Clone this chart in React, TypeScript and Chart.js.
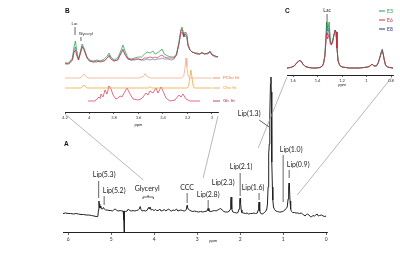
import { useEffect, useRef } from "react";
import { Chart, registerables } from "chart.js";
Chart.register(...registerables);

const FONT = 'Lato, "Open Sans", sans-serif';
const BOLD = '"Liberation Sans", Arial, sans-serif';

// ---------------- Panel A: full spectrum ----------------
const A_PPM = [
  6.12, 6.06, 6.0, 5.94, 5.88, 5.82, 5.76, 5.7, 5.64, 5.58, 5.52, 5.46, 5.4, 5.35, 5.31, 5.295, 5.285, 5.275, 5.265, 5.255,
  5.24, 5.22, 5.2, 5.18, 5.16, 5.13, 5.09, 5.05, 5.01, 4.97, 4.93, 4.9, 4.87, 4.83, 4.79, 4.75, 4.72, 4.706, 4.7, 4.694,
  4.685, 4.66, 4.63, 4.6, 4.57, 4.53, 4.49, 4.45, 4.41, 4.37, 4.345, 4.325, 4.305, 4.28, 4.24, 4.2, 4.16, 4.13, 4.115, 4.095,
  4.07, 4.04, 4.0, 3.97, 3.94, 3.9, 3.87, 3.84, 3.8, 3.76, 3.73, 3.7, 3.66, 3.63, 3.6, 3.56, 3.52, 3.48, 3.45, 3.42,
  3.38, 3.34, 3.3, 3.27, 3.25, 3.235, 3.225, 3.21, 3.18, 3.14, 3.1, 3.06, 3.02, 2.97, 2.92, 2.87, 2.82, 2.77, 2.745, 2.725,
  2.68, 2.64, 2.6, 2.56, 2.52, 2.48, 2.45, 2.42, 2.38, 2.34, 2.3, 2.26, 2.235, 2.22, 2.21, 2.2, 2.19, 2.17, 2.13, 2.09,
  2.05, 2.025, 2.01, 2.0, 1.99, 1.975, 1.96, 1.92, 1.88, 1.84, 1.8, 1.76, 1.72, 1.68, 1.64, 1.6, 1.58, 1.57, 1.56, 1.55,
  1.54, 1.52, 1.49, 1.46, 1.43, 1.4, 1.38, 1.365, 1.35, 1.34, 1.332, 1.322, 1.31, 1.295, 1.283, 1.275, 1.268, 1.26, 1.25, 1.24,
  1.225, 1.2, 1.17, 1.13, 1.09, 1.05, 1.02, 0.99, 0.96, 0.93, 0.905, 0.885, 0.872, 0.862, 0.852, 0.84, 0.825, 0.805, 0.78, 0.74,
  0.7, 0.66, 0.62, 0.58, 0.55, 0.52, 0.49, 0.46, 0.43, 0.4, 0.37, 0.34, 0.31, 0.27, 0.24, 0.21, 0.18, 0.15, 0.11, 0.07,
  0.03, 0.0,
];
const A_INTENSITY = [
  18.5, 19, 18.5, 18.5, 18, 18.5, 18, 17.5, 17.5, 17, 17, 16.5, 16, 15.5, 15.5, 22, 31, 28, 24, 26,
  24, 23, 23, 24.5, 23, 22, 22, 21.5, 21.5, 21, 22.5, 23, 21.5, 21, 21.5, 21, 21, 12, 0, 12,
  21, 20.5, 21, 23, 21.5, 21, 21.5, 21, 21.5, 22, 23, 25.5, 22.5, 21, 21.5, 21, 22, 24.5, 23, 25,
  22, 22.5, 21.5, 22.5, 21.5, 21.5, 23, 21, 21.5, 22.5, 21, 22, 23, 21.5, 21, 22, 21.5, 23, 21, 21.5,
  22, 21.5, 21, 21.5, 23, 26.5, 25, 23, 22, 21, 20.5, 21, 20.5, 20, 20.5, 20, 20.5, 21, 23.5, 21,
  20.5, 21, 21.5, 21, 22, 23, 23.5, 22, 20.5, 20, 20, 20.5, 22.5, 30, 35, 30, 23, 20, 19.5, 19,
  19.5, 23, 31, 34, 29, 22, 19.5, 19, 18.5, 19, 18, 18.5, 18.5, 19, 18.5, 19, 22, 27, 30, 26,
  21, 18.5, 18, 18.5, 20, 21, 23, 28, 45, 70, 78, 88, 118, 148, 155, 140, 105, 70, 45, 32,
  25, 22.5, 21, 20.5, 20, 20, 20.5, 21, 22, 23.5, 25, 33, 45, 49, 43, 31, 23, 20.5, 19.5, 19.5,
  19, 19, 18.5, 19, 18, 17, 16, 17.5, 18, 17, 15.5, 15, 16.5, 16, 17, 18, 16, 16.5, 17, 16,
  15.5, 16,
];
const A_TICKS = [6, 5, 4, 3, 2, 1, 0];
const A_LABELS = ["Lip(5.3)", "Lip(5.2)", "Glyceryl", "CCC", "Lip(2.8)", "Lip(2.3)", "Lip(2.1)", "Lip(1.6)", "Lip(1.3)", "Lip(1.0)", "Lip(0.9)"];

// ---------------- Panel B: 4.2–3.0 ppm zoom ----------------
const B_PPM = [
  4.2, 4.17, 4.14, 4.125, 4.115, 4.105, 4.09, 4.075, 4.06, 4.045, 4.02, 4.0, 3.97, 3.94, 3.91, 3.88, 3.855, 3.84, 3.825, 3.8,
  3.77, 3.745, 3.727, 3.71, 3.686, 3.66, 3.63, 3.6, 3.575, 3.55, 3.53, 3.505, 3.482, 3.465, 3.449, 3.425, 3.408, 3.39, 3.36, 3.33,
  3.31, 3.29, 3.27, 3.255, 3.245, 3.235, 3.229, 3.215, 3.205, 3.196, 3.18, 3.163, 3.14, 3.122, 3.1, 3.082, 3.06, 3.033, 3.016, 3.0,
  2.975, 2.951,
];
const B_E3 = [
  49, 49, 54, 66, 71, 62, 53, 60, 68, 64, 55, 52, 51, 52, 51, 53, 56, 59, 55, 52,
  54, 61, 67, 61, 54, 53, 54, 55, 55, 58, 60, 59, 61, 58, 59, 61, 63, 58, 56, 55,
  55, 58, 70, 82, 85, 80, 76, 76, 74, 66, 62, 60, 59, 59, 58, 60, 58, 59, 61, 58,
  56, 55,
];
const B_E6 = [
  49, 48, 52, 60, 62, 57, 52, 58, 65, 62, 54, 51, 50, 51, 50, 51, 54, 56, 53, 51,
  52, 58, 62, 57, 53, 52, 53, 53, 52, 54, 54, 55, 54, 55, 54, 56, 57, 55, 54, 54,
  54, 57, 68, 80, 83, 78, 76, 78, 76, 67, 62, 60, 59, 58, 58, 59, 58, 59, 60, 57,
  56, 55,
];
const B_E8 = [
  48, 48, 52, 62, 65, 58, 52, 59, 66, 63, 54, 51, 50, 50, 51, 51, 54, 57, 53, 51,
  52, 59, 63, 58, 53, 52, 52, 53, 52, 52, 53, 52, 53, 52, 53, 53, 54, 53, 53, 52,
  53, 57, 68, 78, 80, 76, 75, 80, 78, 68, 62, 60, 59, 58, 58, 59, 58, 58, 60, 57,
  55, 55,
];
const PCHO_PPM = [4.2, 4.08, 4.06, 4.045, 4.03, 4.01, 3.6, 3.56, 3.545, 3.53, 3.5, 3.25, 3.23, 3.22, 3.212, 3.205, 3.195, 3.18, 3.0];
const PCHO_FIT = [34, 34, 35.5, 38, 35.5, 34, 34, 35.5, 38.5, 35.5, 34, 34, 36, 45, 54, 45, 36, 34, 34];
const CHO_PPM = [4.2, 4.07, 4.055, 4.045, 4.035, 4.02, 3.52, 3.505, 3.495, 3.2, 3.19, 3.18, 3.172, 3.165, 3.155, 3.145, 3.0];
const CHO_FIT = [24, 24, 25.5, 27, 25.5, 24, 24, 25.5, 24, 24, 27, 36, 42, 36, 27, 24, 24];
const GLC_PPM = [
  4.012, 3.955, 3.939, 3.922, 3.914, 3.906, 3.89, 3.873, 3.857, 3.841, 3.824, 3.808, 3.784, 3.767, 3.751, 3.735, 3.718, 3.694, 3.669, 3.645,
  3.604, 3.58, 3.563, 3.539, 3.522, 3.506, 3.482, 3.457, 3.441, 3.416, 3.4, 3.376, 3.343, 3.302, 3.269, 3.253, 3.237, 3.212, 3.18, 3.098,
];
const GLC_FIT = [
  11, 11, 13, 15, 13.5, 18, 15, 22, 18, 26, 23, 17, 13, 14, 16, 15, 19, 24, 18, 13,
  12, 13, 15, 19, 17, 21, 19, 24, 19, 25, 21, 14, 11, 12, 17, 15, 18, 13, 11, 11,
];
const B_TICKS = [4.2, 4, 3.8, 3.6, 3.4, 3.2, 3];
const FIT_NAMES = ["PCho fit", "Cho fit", "Glc fit"];

// ---------------- Panel C: 1.65–0.8 ppm zoom ----------------
const C_PPM = [
  1.65, 1.62, 1.59, 1.57, 1.55, 1.535, 1.52, 1.5, 1.47, 1.44, 1.41, 1.38, 1.36, 1.35, 1.34, 1.333, 1.326, 1.317, 1.305, 1.296,
  1.287, 1.277, 1.266, 1.256, 1.249, 1.241, 1.232, 1.218, 1.2, 1.17, 1.14, 1.1, 1.06, 1.02, 0.99, 0.97, 0.955, 0.94, 0.92, 0.905,
  0.89, 0.88, 0.872, 0.864, 0.855, 0.845, 0.83, 0.81, 0.784,
];
const C_E3 = [
  7, 7.5, 9, 12, 14.5, 14, 11, 8.5, 7.5, 7, 7, 7.5, 9, 12, 20, 35, 53, 44, 53, 36,
  31, 34, 40, 45, 43, 27, 14, 9.5, 8, 7.5, 7, 7, 7, 7.5, 8, 9, 11, 9, 9, 12,
  18, 23, 25, 21, 15, 10, 8, 7.5, 7,
];
const C_E6 = [
  7, 7.5, 9, 12, 14.5, 14, 11, 8.5, 7.5, 7, 7, 7.5, 9, 12, 19, 30, 42, 36, 41, 31,
  30, 33, 40, 45, 43, 27, 14, 9.5, 8, 7.5, 7, 7, 7, 7.5, 8, 9, 11, 9, 9, 12,
  18, 22, 24, 21, 15, 10, 8, 7.5, 7,
];
const C_E8 = [
  7, 7.5, 9, 12, 14.5, 14, 11, 8.5, 7.5, 7, 7, 7.5, 9, 12, 19, 32, 47, 40, 47, 33,
  30, 33, 40, 45, 43, 27, 14, 9.5, 8, 7.5, 7, 7, 7, 7.5, 8, 9, 11, 9, 9, 12,
  18, 23, 26, 21, 15, 10, 8, 7.5, 7,
];
const C_TICKS = [1.6, 1.4, 1.2, 1, 0.8];
const GROUPS = ["E3", "E6", "E8"];

const GROUP_COLORS = ["#1e9a4a", "#e0263c", "#26387f"];
const GROUP_LINE = ["rgba(30,154,74,0.8)", "rgba(214,34,60,0.75)", "rgba(38,56,127,0.55)"];
const FIT_LINE = ["#f2ad90", "#f5a73a", "#e2475e"];
const FIT_TEXT = ["#f07a3c", "#f0a030", "#c0305a"];

const pts = (xs: number[], ys: number[]) => xs.map((x, i) => ({ x, y: ys[i] }));

function axisX(min: number, max: number, ticks: number[], height: number, fontSize: number, tickLen: number) {
  return {
    type: "linear" as const,
    reverse: true,
    min,
    max,
    afterBuildTicks: (s: any) => {
      s.ticks = ticks.map((v) => ({ value: v }));
    },
    afterFit: (s: any) => {
      s.height = height;
    },
    grid: { display: true, drawOnChartArea: false, drawTicks: true, tickLength: tickLen, color: "#222", lineWidth: 0.7 },
    border: { display: true, color: "#222", width: 1 },
    ticks: {
      font: { size: fontSize, family: FONT },
      color: "#333",
      padding: 1,
      maxRotation: 0,
      autoSkip: false,
      callback: (v: any) => String(v),
    },
  };
}

const baseOpts = {
  responsive: false,
  animation: false as const,
  devicePixelRatio: 1,
  events: [] as any[],
  plugins: { legend: { display: false }, tooltip: { enabled: false }, title: { display: false } },
};

export default function App() {
  const aRef = useRef<HTMLCanvasElement>(null);
  const bRef = useRef<HTMLCanvasElement>(null);
  const cRef = useRef<HTMLCanvasElement>(null);

  useEffect(() => {
    const line = (data: any, color: string, width = 1) => ({
      data,
      borderColor: color,
      borderWidth: width,
      pointRadius: 0,
      tension: 0,
      fill: false,
    });

    // ---------- B ----------
    const annotB = {
      id: "annotB",
      afterDraw(chart: any) {
        const ctx = chart.ctx;
        const xs = chart.scales.x;
        const ys = chart.scales.y;
        const a = chart.chartArea;
        const px = (p: number) => xs.getPixelForValue(p);
        const py = (v: number) => ys.getPixelForValue(v);
        ctx.save();
        ctx.fillStyle = "#111";
        ctx.font = `bold 6.5px ${BOLD}`;
        ctx.textAlign = "left";
        ctx.textBaseline = "middle";
        ctx.fillText("B", a.left, 11);
        ctx.font = `4px ${FONT}`;
        ctx.textAlign = "center";
        ctx.fillStyle = "#222";
        ctx.fillText("Lac", px(4.122), py(88));
        ctx.fillText("Glyceryl", px(4.03), py(78));
        ctx.strokeStyle = "#222";
        ctx.lineWidth = 0.7;
        ctx.beginPath();
        ctx.moveTo(px(4.118), py(85));
        ctx.lineTo(px(4.118), py(77));
        ctx.moveTo(px(4.07), py(75));
        ctx.lineTo(px(4.07), py(71));
        ctx.stroke();
        ctx.fillText("ppm", px(3.6), a.bottom + 13);
        // fit legend
        const bases = [PCHO_FIT[0], CHO_FIT[0], GLC_FIT[0]];
        ctx.textAlign = "left";
        ctx.font = `4.5px ${FONT}`;
        FIT_NAMES.forEach((n, i) => {
          const y = py(bases[i]);
          ctx.strokeStyle = i === 2 ? "#a02050" : FIT_TEXT[i];
          ctx.lineWidth = 0.8;
          ctx.beginPath();
          ctx.moveTo(a.right - 5, y);
          ctx.lineTo(a.right + 2, y);
          ctx.stroke();
          ctx.fillStyle = FIT_TEXT[i];
          ctx.fillText(n, a.right + 5, y);
        });
        ctx.restore();
      },
    };
    const chartB = new Chart(bRef.current!, {
      type: "line",
      data: {
        datasets: [
          line(pts(PCHO_PPM, PCHO_FIT), FIT_LINE[0], 0.8),
          line(pts(CHO_PPM, CHO_FIT), FIT_LINE[1], 0.8),
          line(pts(GLC_PPM, GLC_FIT), FIT_LINE[2], 0.8),
          line(pts(B_PPM, B_E6), GROUP_LINE[1], 0.9),
          line(pts(B_PPM, B_E3), GROUP_LINE[0], 0.9),
          line(pts(B_PPM, B_E8), GROUP_LINE[2], 0.9),
        ],
      },
      options: {
        ...baseOpts,
        layout: { padding: { left: 65, right: 182, top: 20, bottom: 0 } },
        scales: {
          x: axisX(2.951, 4.2, B_TICKS, 145, 4, 2),
          y: { display: false, min: 0, max: 92 },
        },
      } as any,
      plugins: [annotB],
    });

    // ---------- C ----------
    const annotC = {
      id: "annotC",
      afterDraw(chart: any) {
        const ctx = chart.ctx;
        const xs = chart.scales.x;
        const ys = chart.scales.y;
        const a = chart.chartArea;
        const px = (p: number) => xs.getPixelForValue(p);
        const py = (v: number) => ys.getPixelForValue(v);
        ctx.save();
        ctx.fillStyle = "#111";
        ctx.font = `bold 6.5px ${BOLD}`;
        ctx.textAlign = "left";
        ctx.textBaseline = "middle";
        ctx.fillText("C", a.left - 2, 11);
        ctx.font = `5px ${FONT}`;
        ctx.textAlign = "center";
        ctx.fillStyle = "#222";
        ctx.fillText("Lac", px(1.322), 10);
        ctx.strokeStyle = "#222";
        ctx.lineWidth = 0.7;
        ctx.beginPath();
        ctx.moveTo(px(1.322), py(61));
        ctx.lineTo(px(1.322), py(47));
        ctx.stroke();
        ctx.font = `4px ${FONT}`;
        ctx.fillText("ppm", px(1.2), a.bottom + 10);
        ctx.textAlign = "left";
        ctx.font = `5px ${FONT}`;
        GROUPS.forEach((g, i) => {
          const y = 11 + i * 9;
          ctx.strokeStyle = GROUP_COLORS[i];
          ctx.lineWidth = 1;
          ctx.beginPath();
          ctx.moveTo(a.right - 14, y);
          ctx.lineTo(a.right - 8, y);
          ctx.stroke();
          ctx.fillStyle = GROUP_COLORS[i];
          ctx.fillText(g, a.right - 6, y);
        });
        ctx.restore();
      },
    };
    const chartC = new Chart(cRef.current!, {
      type: "line",
      data: {
        datasets: [
          line(pts(C_PPM, C_E6), GROUP_LINE[1], 1),
          line(pts(C_PPM, C_E3), GROUP_LINE[0], 1),
          line(pts(C_PPM, C_E8), GROUP_LINE[2], 1),
        ],
      },
      options: {
        ...baseOpts,
        layout: { padding: { left: 287, right: 7, top: 8, bottom: 0 } },
        scales: {
          x: axisX(0.784, 1.649, C_TICKS, 182, 4, 2),
          y: { display: false, min: 0, max: 67 },
        },
      } as any,
      plugins: [annotC],
    });

    // ---------- A ----------
    const LABEL_POS: [number, number][] = [
      [5.163, 57], [4.93, 41], [4.163, 43], [3.233, 44], [2.744, 37], [2.395, 49],
      [1.977, 65], [1.698, 44], [1.79, 118], [0.814, 82], [0.651, 67],
    ];
    const LEADERS: [number, number, number, number][] = [
      [5.29, 51, 5.29, 34],
      [5.163, 36, 5.163, 27],
      [3.233, 39, 3.233, 29],
      [2.744, 32, 2.744, 22],
      [2.0, 59, 2.0, 36],
      [1.56, 39, 1.56, 32],
      [1.558, 112, 1.326, 105],
      [1.0, 77, 1.0, 30],
      [0.86, 62, 0.86, 54],
    ];
    const annotA = {
      id: "annotA",
      afterDraw(chart: any) {
        const ctx = chart.ctx;
        const xs = chart.scales.x;
        const ys = chart.scales.y;
        const a = chart.chartArea;
        const px = (p: number) => xs.getPixelForValue(p);
        const py = (v: number) => ys.getPixelForValue(v);
        const bA = chartB.chartArea;
        const cA = chartC.chartArea;
        ctx.save();
        // connectors from the insets
        ctx.strokeStyle = "#9a9a9a";
        ctx.lineWidth = 0.7;
        ctx.beginPath();
        ctx.moveTo(bA.left, bA.bottom + 2);
        ctx.lineTo(px(4.25), py(52));
        ctx.moveTo(bA.right, bA.bottom + 4);
        ctx.lineTo(px(2.86), py(54));
        ctx.moveTo(cA.left, cA.bottom + 2);
        ctx.lineTo(px(1.58), py(84));
        ctx.moveTo(cA.right - 1, cA.bottom + 2);
        ctx.lineTo(px(0.67), py(37));
        ctx.stroke();

        ctx.fillStyle = "#111";
        ctx.font = `bold 6.5px ${BOLD}`;
        ctx.textAlign = "left";
        ctx.textBaseline = "middle";
        ctx.fillText("A", a.left + 1, 144);

        ctx.fillStyle = "#222";
        ctx.font = `7px ${FONT}`;
        ctx.textAlign = "center";
        A_LABELS.forEach((t, i) => {
          const [p, v] = LABEL_POS[i];
          ctx.fillText(t, px(p), py(v));
        });
        ctx.strokeStyle = "#222";
        ctx.lineWidth = 0.7;
        ctx.beginPath();
        LEADERS.forEach(([p1, v1, p2, v2]) => {
          ctx.moveTo(px(p1), py(v1));
          ctx.lineTo(px(p2), py(v2));
        });
        // glyceryl bracket
        ctx.moveTo(px(4.26), py(33));
        ctx.lineTo(px(4.26), py(35));
        ctx.lineTo(px(4.02), py(35));
        ctx.lineTo(px(4.02), py(33));
        ctx.moveTo(px(4.14), py(35));
        ctx.lineTo(px(4.14), py(37));
        ctx.stroke();

        ctx.font = `4px ${FONT}`;
        ctx.fillText("ppm", px(2.63), a.bottom + 9);
        ctx.restore();
      },
    };
    const chartA = new Chart(aRef.current!, {
      type: "line",
      data: { datasets: [line(pts(A_PPM, A_INTENSITY), "#222222", 1)] },
      options: {
        ...baseOpts,
        layout: { padding: { left: 63, right: 73, top: 72, bottom: 0 } },
        scales: {
          x: axisX(-0.02, 6.12, A_TICKS, 25, 5, 3),
          y: { display: false, min: 0, max: 160 },
        },
      } as any,
      plugins: [annotA],
    });

    return () => {
      chartA.destroy();
      chartB.destroy();
      chartC.destroy();
    };
  }, []);

  const cv: any = { position: "absolute", left: 0, top: 0, width: 400, height: 257 };
  return (
    <div style={{ position: "fixed", left: 0, top: 0, width: 400, height: 257, background: "#fff" }}>
      <canvas ref={aRef} width={400} height={257} style={cv} />
      <canvas ref={bRef} width={400} height={257} style={cv} />
      <canvas ref={cRef} width={400} height={257} style={cv} />
    </div>
  );
}
